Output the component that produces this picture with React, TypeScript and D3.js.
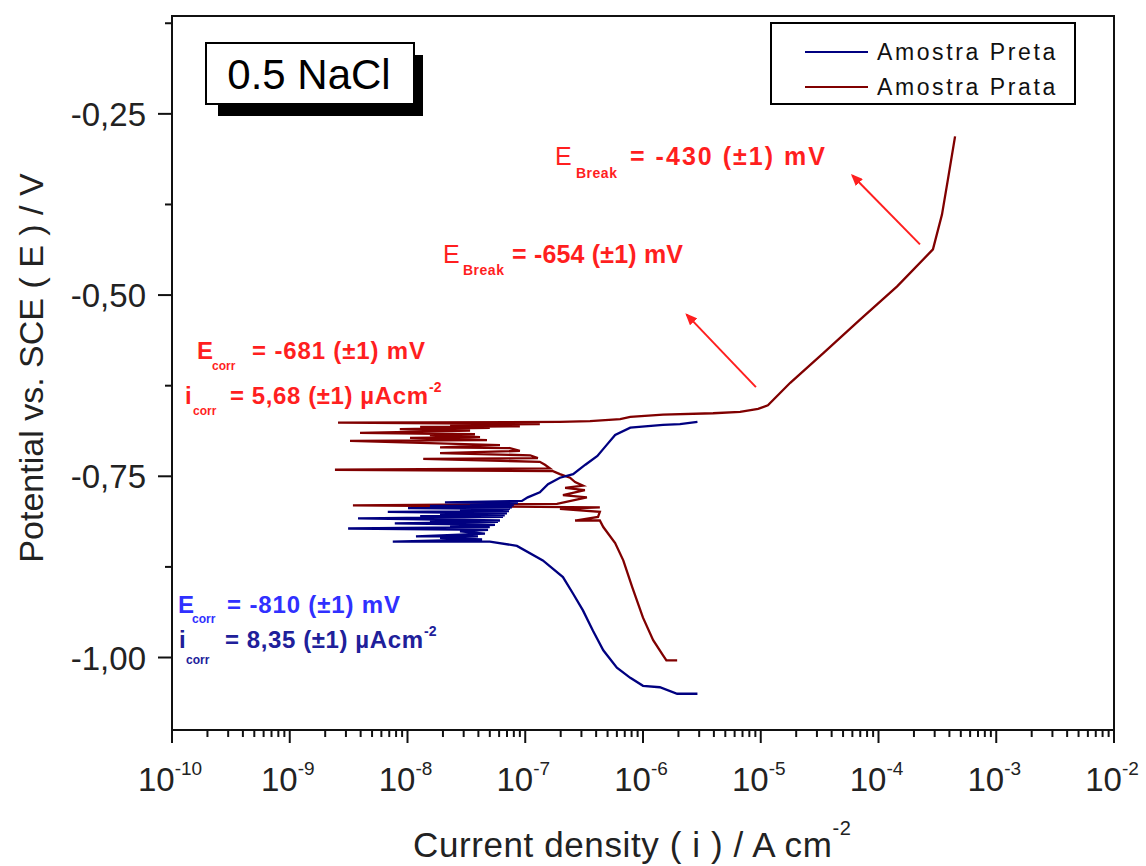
import React from "react";
import * as d3 from "d3";

// Amostra Preta (blue) - [current density A/cm2, potential V]
const pretaCathodic: [number, number][] = [
  [2.9e-6, -1.05], [1.95e-6, -1.05], [1.39e-6, -1.041], [1.0e-6, -1.039],
  [7.8e-7, -1.028], [6.0e-7, -1.014], [4.6e-7, -0.99], [3.76e-7, -0.963],
  [3.09e-7, -0.935], [2.55e-7, -0.912], [2.09e-7, -0.889], [1.41e-7, -0.866],
  [8.5e-8, -0.846],
];
const pretaNoise: [number, number][] = [
  [5.0e-8, -0.84], [7.5e-9, -0.84], [4.3e-8, -0.837], [1.89e-8, -0.835],
  [3.97e-8, -0.833], [1.18e-8, -0.833], [4.55e-8, -0.829], [2.79e-8, -0.826],
  [4.83e-8, -0.824], [3.13e-9, -0.822], [5.0e-8, -0.82], [2.3e-8, -0.819],
  [5.53e-8, -0.817], [7.8e-9, -0.815], [5.87e-8, -0.813], [1.55e-8, -0.812],
  [6.1e-8, -0.811], [3.8e-9, -0.808], [6.47e-8, -0.806], [1.28e-8, -0.805],
  [6.7e-8, -0.804], [1.89e-8, -0.802], [7.0e-8, -0.801], [6.8e-9, -0.799],
  [7.28e-8, -0.798], [2.79e-8, -0.797], [7.4e-8, -0.795], [1.01e-8, -0.794],
  [7.7e-8, -0.793], [1.55e-8, -0.791], [8.0e-8, -0.79], [3.4e-8, -0.788],
  [8.67e-8, -0.787], [2.08e-8, -0.786], [9.37e-8, -0.784],
];
const pretaAnodic: [number, number][] = [
  [1.05e-7, -0.779], [1.33e-7, -0.772], [1.56e-7, -0.761], [1.97e-7, -0.752],
  [2.55e-7, -0.747], [3.24e-7, -0.734], [4.1e-7, -0.722], [4.9e-7, -0.707],
  [5.8e-7, -0.693], [7.8e-7, -0.683], [1.04e-6, -0.681], [1.48e-6, -0.679],
  [2.06e-6, -0.678], [2.9e-6, -0.675],
];

// Amostra Prata (dark red)
const prataCathodic: [number, number][] = [
  [1.95e-6, -1.004], [1.58e-6, -1.004], [1.48e-6, -0.997], [1.22e-6, -0.976],
  [1.0e-6, -0.945], [8.1e-7, -0.903], [6.8e-7, -0.866], [5.8e-7, -0.842],
  [4.6e-7, -0.82],
];
const prataNoise: [number, number][] = [
  [4.3e-7, -0.811], [2.65e-7, -0.811], [4.15e-7, -0.806], [4.3e-7, -0.799],
  [1.97e-7, -0.795], [4.3e-7, -0.793], [3.44e-9, -0.79], [1.86e-7, -0.788],
  [3.34e-7, -0.779], [2.09e-7, -0.776], [3.21e-7, -0.769], [2.18e-7, -0.766],
  [3.09e-7, -0.763], [2.65e-7, -0.758], [2.4e-7, -0.752], [1.97e-7, -0.747],
  [1.72e-7, -0.743], [2.42e-9, -0.741], [1.62e-7, -0.739], [1.47e-7, -0.734],
  [1.33e-7, -0.73], [1.36e-8, -0.726], [1.28e-7, -0.725], [1.1e-7, -0.721],
  [1.89e-8, -0.718], [9.0e-8, -0.715], [7.4e-8, -0.711], [1.89e-8, -0.71],
  [6.1e-8, -0.707], [3.25e-9, -0.701], [4.73e-8, -0.7], [1.05e-8, -0.697],
  [4.13e-8, -0.696], [1.55e-8, -0.693], [3.74e-8, -0.692], [3.95e-9, -0.69],
  [3.4e-8, -0.687], [8.6e-9, -0.685], [5.0e-8, -0.683], [1.28e-8, -0.682],
  [9.0e-8, -0.681], [2.3e-8, -0.679], [1.33e-7, -0.678], [2.57e-9, -0.676],
  [1.97e-7, -0.675], [3.55e-7, -0.674], [6.4e-7, -0.671],
];
const prataAnodic: [number, number][] = [
  [7.8e-7, -0.668], [1.48e-6, -0.665], [3.94e-6, -0.663], [6.67e-6, -0.661],
  [9.5e-6, -0.657], [1.15e-5, -0.652], [1.78e-5, -0.621], [3.4e-5, -0.58],
  [6.97e-5, -0.534], [1.44e-4, -0.488], [2.9e-4, -0.437], [3.46e-4, -0.389],
  [3.89e-4, -0.34], [4.47e-4, -0.281],
];

const xExponents = [-10, -9, -8, -7, -6, -5, -4, -3, -2];
const yTicks = [-0.25, -0.5, -0.75, -1.0];
const yTickLabels = ["-0,25", "-0,50", "-0,75", "-1,00"];
const yMinorTicks = [-0.125, -0.375, -0.625, -0.875];

const legendLabels = ["Amostra Preta", "Amostra Prata"];
const BLUE = "#000080";
const RED = "#800000";
const ANNOT = "#ff1f1f";
const FONT = "'Liberation Sans', Arial, sans-serif";

export default function App() {
  const plot = { left: 172, right: 1114, top: 16, bottom: 730 };
  const x = d3.scaleLog().domain([1e-10, 1e-2]).range([plot.left, plot.right]);
  const y = d3.scaleLinear().domain([-1.1, -0.115]).range([plot.bottom, plot.top]);
  const line = d3
    .line<[number, number]>()
    .x(d => x(d[0]))
    .y(d => y(d[1]));

  const preta = [...pretaCathodic, ...pretaNoise, ...pretaAnodic];
  const prata = [...prataCathodic, ...prataNoise, ...prataAnodic];

  const minorX: number[] = [];
  for (let k = -10; k < -2; k++) {
    for (let m = 2; m <= 9; m++) minorX.push(m * Math.pow(10, k));
  }

  // arrows in data space: [from, to]
  const arrows: [number, number][][] = [
    [[2.25e-4, -0.43], [6.0e-5, -0.335]],
    [[9.1e-6, -0.627], [2.35e-6, -0.527]],
  ];

  return (
    <svg
      width={1146}
      height={866}
      style={{ position: "absolute", left: 0, top: 0, background: "#fff" }}
      fontFamily={FONT}
    >
      <defs>
        <clipPath id="plotClip">
          <rect x={plot.left} y={plot.top} width={plot.right - plot.left} height={plot.bottom - plot.top} />
        </clipPath>
        <marker id="arrowHead" markerWidth={12} markerHeight={10} refX={10} refY={5} orient="auto" markerUnits="userSpaceOnUse">
          <path d="M0,0 L12,5 L0,10 Z" fill={ANNOT} />
        </marker>
      </defs>

      {/* curves */}
      <g clipPath="url(#plotClip)" fill="none" strokeWidth={2.3} strokeLinejoin="miter">
        <path d={line(prata) || ""} stroke={RED} />
        <path d={line(preta) || ""} stroke={BLUE} />
      </g>

      {/* frame */}
      <rect
        x={plot.left}
        y={plot.top}
        width={plot.right - plot.left}
        height={plot.bottom - plot.top}
        fill="none"
        stroke="#111"
        strokeWidth={2}
      />

      {/* x ticks */}
      {xExponents.map(e => (
        <line key={"xM" + e} x1={x(Math.pow(10, e))} x2={x(Math.pow(10, e))} y1={plot.bottom} y2={plot.bottom + 13} stroke="#111" strokeWidth={2} />
      ))}
      {minorX.map((v, i) => (
        <line key={"xm" + i} x1={x(v)} x2={x(v)} y1={plot.bottom} y2={plot.bottom + 7} stroke="#111" strokeWidth={2} />
      ))}
      {xExponents.map(e => (
        <text key={"xl" + e} x={x(Math.pow(10, e)) - 2} y={791} textAnchor="middle" fontSize={33} fill="#222">
          10
          <tspan fontSize={19} dy={-16}>{e}</tspan>
        </text>
      ))}

      {/* y ticks */}
      {yTicks.map((v, i) => (
        <g key={"y" + v}>
          <line x1={plot.left - 14} x2={plot.left} y1={y(v)} y2={y(v)} stroke="#111" strokeWidth={2} />
          <text x={146} y={y(v) + 12} textAnchor="end" fontSize={33} fill="#222">
            {yTickLabels[i]}
          </text>
        </g>
      ))}
      {yMinorTicks.map(v => (
        <line key={"ym" + v} x1={plot.left - 7} x2={plot.left} y1={y(v)} y2={y(v)} stroke="#111" strokeWidth={2} />
      ))}

      {/* axis titles */}
      <text transform="translate(43,368) rotate(-90)" textAnchor="middle" fontSize={34} fill="#222">
        Potential vs. SCE ( E ) / V
      </text>
      <text x={413} y={857} fontSize={35} letterSpacing={0.6} fill="#222">
        Current density ( i ) / A cm
        <tspan fontSize={20} dy={-22}>-2</tspan>
      </text>

      {/* title box */}
      <rect x={218} y={55} width={205} height={61} fill="#000" />
      <rect x={206} y={43} width={208} height={61} fill="#fff" stroke="#000" strokeWidth={2} />
      <text x={309} y={89} textAnchor="middle" fontSize={42} fill="#000">
        0.5 NaCl
      </text>

      {/* legend */}
      <rect x={771} y={23} width={304} height={81} fill="#fff" stroke="#000" strokeWidth={2} />
      {legendLabels.map((lab, i) => (
        <g key={lab}>
          <line x1={805} x2={868} y1={52 + i * 35} y2={52 + i * 35} stroke={i === 0 ? BLUE : RED} strokeWidth={2} />
          <text x={877} y={60 + i * 35} fontSize={23} letterSpacing={2.6} fill="#111">
            {lab}
          </text>
        </g>
      ))}

      {/* arrows */}
      {arrows.map((a, i) => (
        <line
          key={"ar" + i}
          x1={x(a[0][0])}
          y1={y(a[0][1])}
          x2={x(a[1][0])}
          y2={y(a[1][1])}
          stroke={ANNOT}
          strokeWidth={2}
          markerEnd="url(#arrowHead)"
        />
      ))}

      {/* annotations */}
      <g fill={ANNOT} fontWeight="bold">
        <text x={555} y={165} fontSize={25} fontWeight="normal">E</text>
        <text x={576} y={178} fontSize={14} letterSpacing={0.5}>Break</text>
        <text x={630} y={165} fontSize={25} textLength={195} lengthAdjust="spacing">= -430 (±1) mV</text>

        <text x={443} y={263} fontSize={25} fontWeight="normal">E</text>
        <text x={463} y={275} fontSize={14} letterSpacing={0.5}>Break</text>
        <text x={512} y={263} fontSize={25} textLength={171} lengthAdjust="spacing">= -654 (±1) mV</text>

        <text x={197} y={359} fontSize={24}>E</text>
        <text x={212} y={370} fontSize={12}>corr</text>
        <text x={252} y={359} fontSize={24} textLength={173} lengthAdjust="spacing">= -681 (±1) mV</text>

        <text x={185} y={404} fontSize={24}>i</text>
        <text x={193} y={415} fontSize={12}>corr</text>
        <text x={230} y={404} fontSize={24} textLength={198} lengthAdjust="spacing">= 5,68 (±1) µAcm</text>
        <text x={429} y={392} fontSize={14}>-2</text>
      </g>
      <g fontWeight="bold">
        <text x={178} y={613} fontSize={24} fill="#3030ff">E</text>
        <text x={192} y={623} fontSize={12} fill="#3030ff">corr</text>
        <text x={227} y={613} fontSize={24} fill="#3030ff" textLength={173} lengthAdjust="spacing">= -810 (±1) mV</text>

        <text x={179} y={648} fontSize={24} fill="#20209a">i</text>
        <text x={186} y={664} fontSize={12} fill="#20209a">corr</text>
        <text x={225} y={648} fontSize={24} fill="#20209a" textLength={198} lengthAdjust="spacing">= 8,35 (±1) µAcm</text>
        <text x={424} y={636} fontSize={14} fill="#20209a">-2</text>
      </g>
    </svg>
  );
}
